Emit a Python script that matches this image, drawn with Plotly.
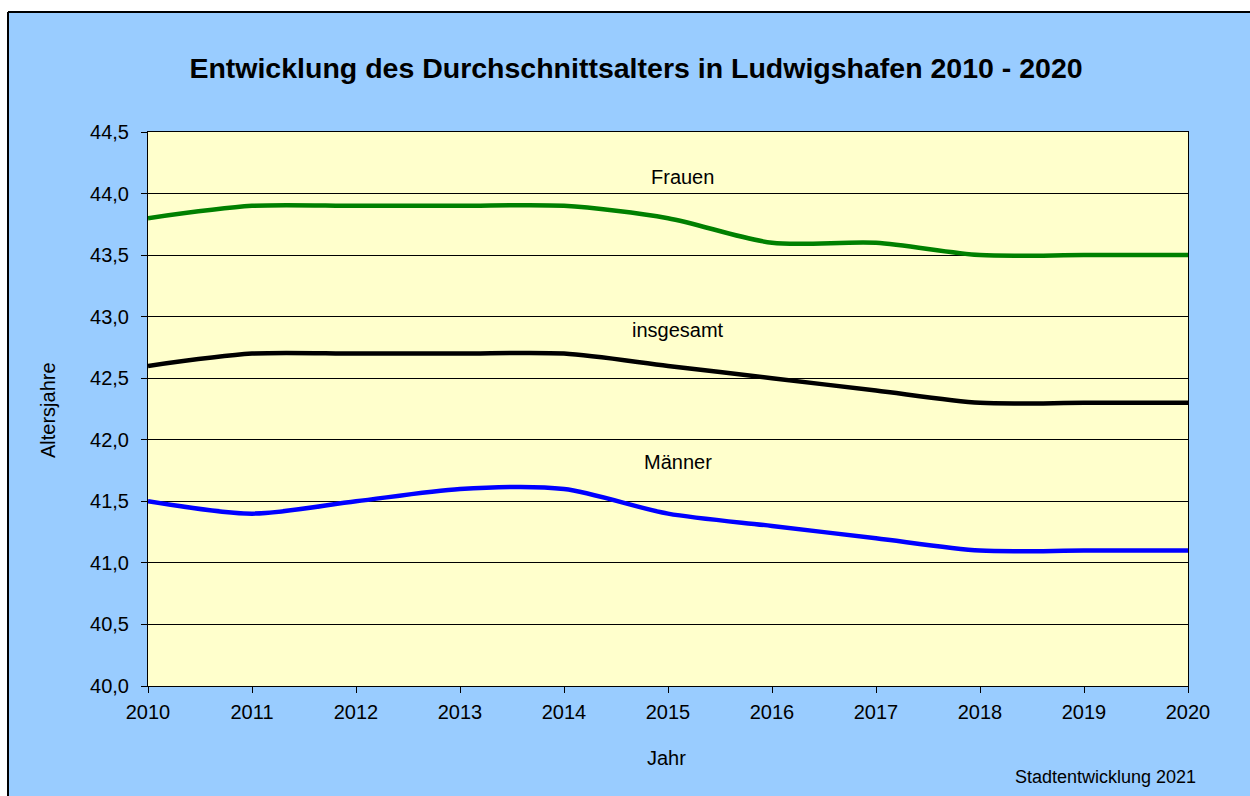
import plotly.graph_objects as go

years = [2010, 2011, 2012, 2013, 2014, 2015, 2016, 2017, 2018, 2019, 2020]
frauen = [43.8, 43.9, 43.9, 43.9, 43.9, 43.8, 43.6, 43.6, 43.5, 43.5, 43.5]
insgesamt = [42.6, 42.7, 42.7, 42.7, 42.7, 42.6, 42.5, 42.4, 42.3, 42.3, 42.3]
maenner = [41.5, 41.4, 41.5, 41.6, 41.6, 41.4, 41.3, 41.2, 41.1, 41.1, 41.1]
y_ticks = [40.0, 40.5, 41.0, 41.5, 42.0, 42.5, 43.0, 43.5, 44.0, 44.5]
y_tick_labels = ["40,0", "40,5", "41,0", "41,5", "42,0", "42,5", "43,0", "43,5", "44,0", "44,5"]

FONT = "Liberation Sans, Arial, sans-serif"
FS = 20

fig = go.Figure()
for name, vals, color in [("Frauen", frauen, "#008000"),
                          ("insgesamt", insgesamt, "#000000"),
                          ("Männer", maenner, "#0000FF")]:
    fig.add_trace(go.Scatter(x=years, y=vals, mode="lines", name=name,
                             line=dict(color=color, width=4.5, shape="spline", smoothing=0.8)))

# series labels
for text, x, y in [("Frauen", 2015.14, 44.135), ("insgesamt", 2015.1, 42.89), ("Männer", 2015.1, 41.82)]:
    fig.add_annotation(x=x, y=y, text=text, showarrow=False, xref="x", yref="y",
                       xanchor="center", yanchor="middle",
                       font=dict(family=FONT, size=FS, color="#000000"))

W, H = 1250, 796
L, R, T, B = 148, 62, 132, 110
pw, ph = W - L - R, H - T - B

def px(xp):
    return (xp - L) / pw

def py(yp):
    return (H - B - yp) / ph

# white margin at top and left, black frame lines
fig.add_shape(type="rect", xref="paper", yref="paper", x0=px(-5), x1=px(W + 5), y0=py(12), y1=py(-5),
              fillcolor="white", line_width=0, layer="above")
fig.add_shape(type="rect", xref="paper", yref="paper", x0=px(-5), x1=px(8), y0=py(H + 5), y1=py(-5),
              fillcolor="white", line_width=0, layer="above")
fig.add_shape(type="line", xref="paper", yref="paper", x0=px(8), x1=px(W + 5), y0=py(12), y1=py(12),
              line=dict(color="black", width=2), layer="above")
fig.add_shape(type="line", xref="paper", yref="paper", x0=px(8), x1=px(8), y0=py(12), y1=py(H + 5),
              line=dict(color="black", width=2), layer="above")

fig.add_annotation(text="Stadtentwicklung 2021", xref="paper", yref="paper", x=px(1105), y=py(777),
                   xanchor="center", yanchor="middle",
                   showarrow=False, font=dict(family=FONT, size=18, color="#000000"))
fig.add_annotation(text="Jahr", xref="paper", yref="paper", x=px(666), y=py(758),
                   xanchor="center", yanchor="middle",
                   showarrow=False, font=dict(family=FONT, size=FS, color="#000000"))
fig.add_annotation(text="Altersjahre", xref="paper", yref="paper", x=px(48), y=py(410), textangle=-90,
                   xanchor="center", yanchor="middle",
                   showarrow=False, font=dict(family=FONT, size=FS, color="#000000"))

fig.update_layout(
    width=W, height=H,
    margin=dict(l=L, r=R, t=T, b=B),
    paper_bgcolor="#99CCFF",
    plot_bgcolor="#FFFFCC",
    showlegend=False,
    title=dict(text="<b>Entwicklung des Durchschnittsalters in Ludwigshafen 2010 - 2020</b>",
               xref="container", x=636 / W, xanchor="center",
               yref="container", y=(H - 68) / H, yanchor="middle",
               font=dict(family=FONT, size=28.5, color="#000000")),
    font=dict(family=FONT, size=FS, color="#000000"),
)
fig.update_xaxes(range=[2010, 2020], tickmode="array", tickvals=years, ticktext=[str(y) for y in years],
                 showgrid=False, zeroline=False, showline=True, linecolor="black", linewidth=1, mirror=True,
                 ticks="outside", ticklen=6, tickcolor="black", ticklabelstandoff=2,
                 tickfont=dict(family=FONT, size=FS))
fig.update_yaxes(range=[40, 44.5], tickmode="array", tickvals=y_ticks, ticktext=y_tick_labels,
                 showgrid=True, gridcolor="black", gridwidth=1, zeroline=False,
                 showline=True, linecolor="black", linewidth=1, mirror=True,
                 ticks="outside", ticklen=6, tickcolor="black", ticklabelstandoff=8,
                 tickfont=dict(family=FONT, size=FS))

fig.write_html("out.html", config={"displayModeBar": False},
               post_script="document.body.style.margin='0';")
